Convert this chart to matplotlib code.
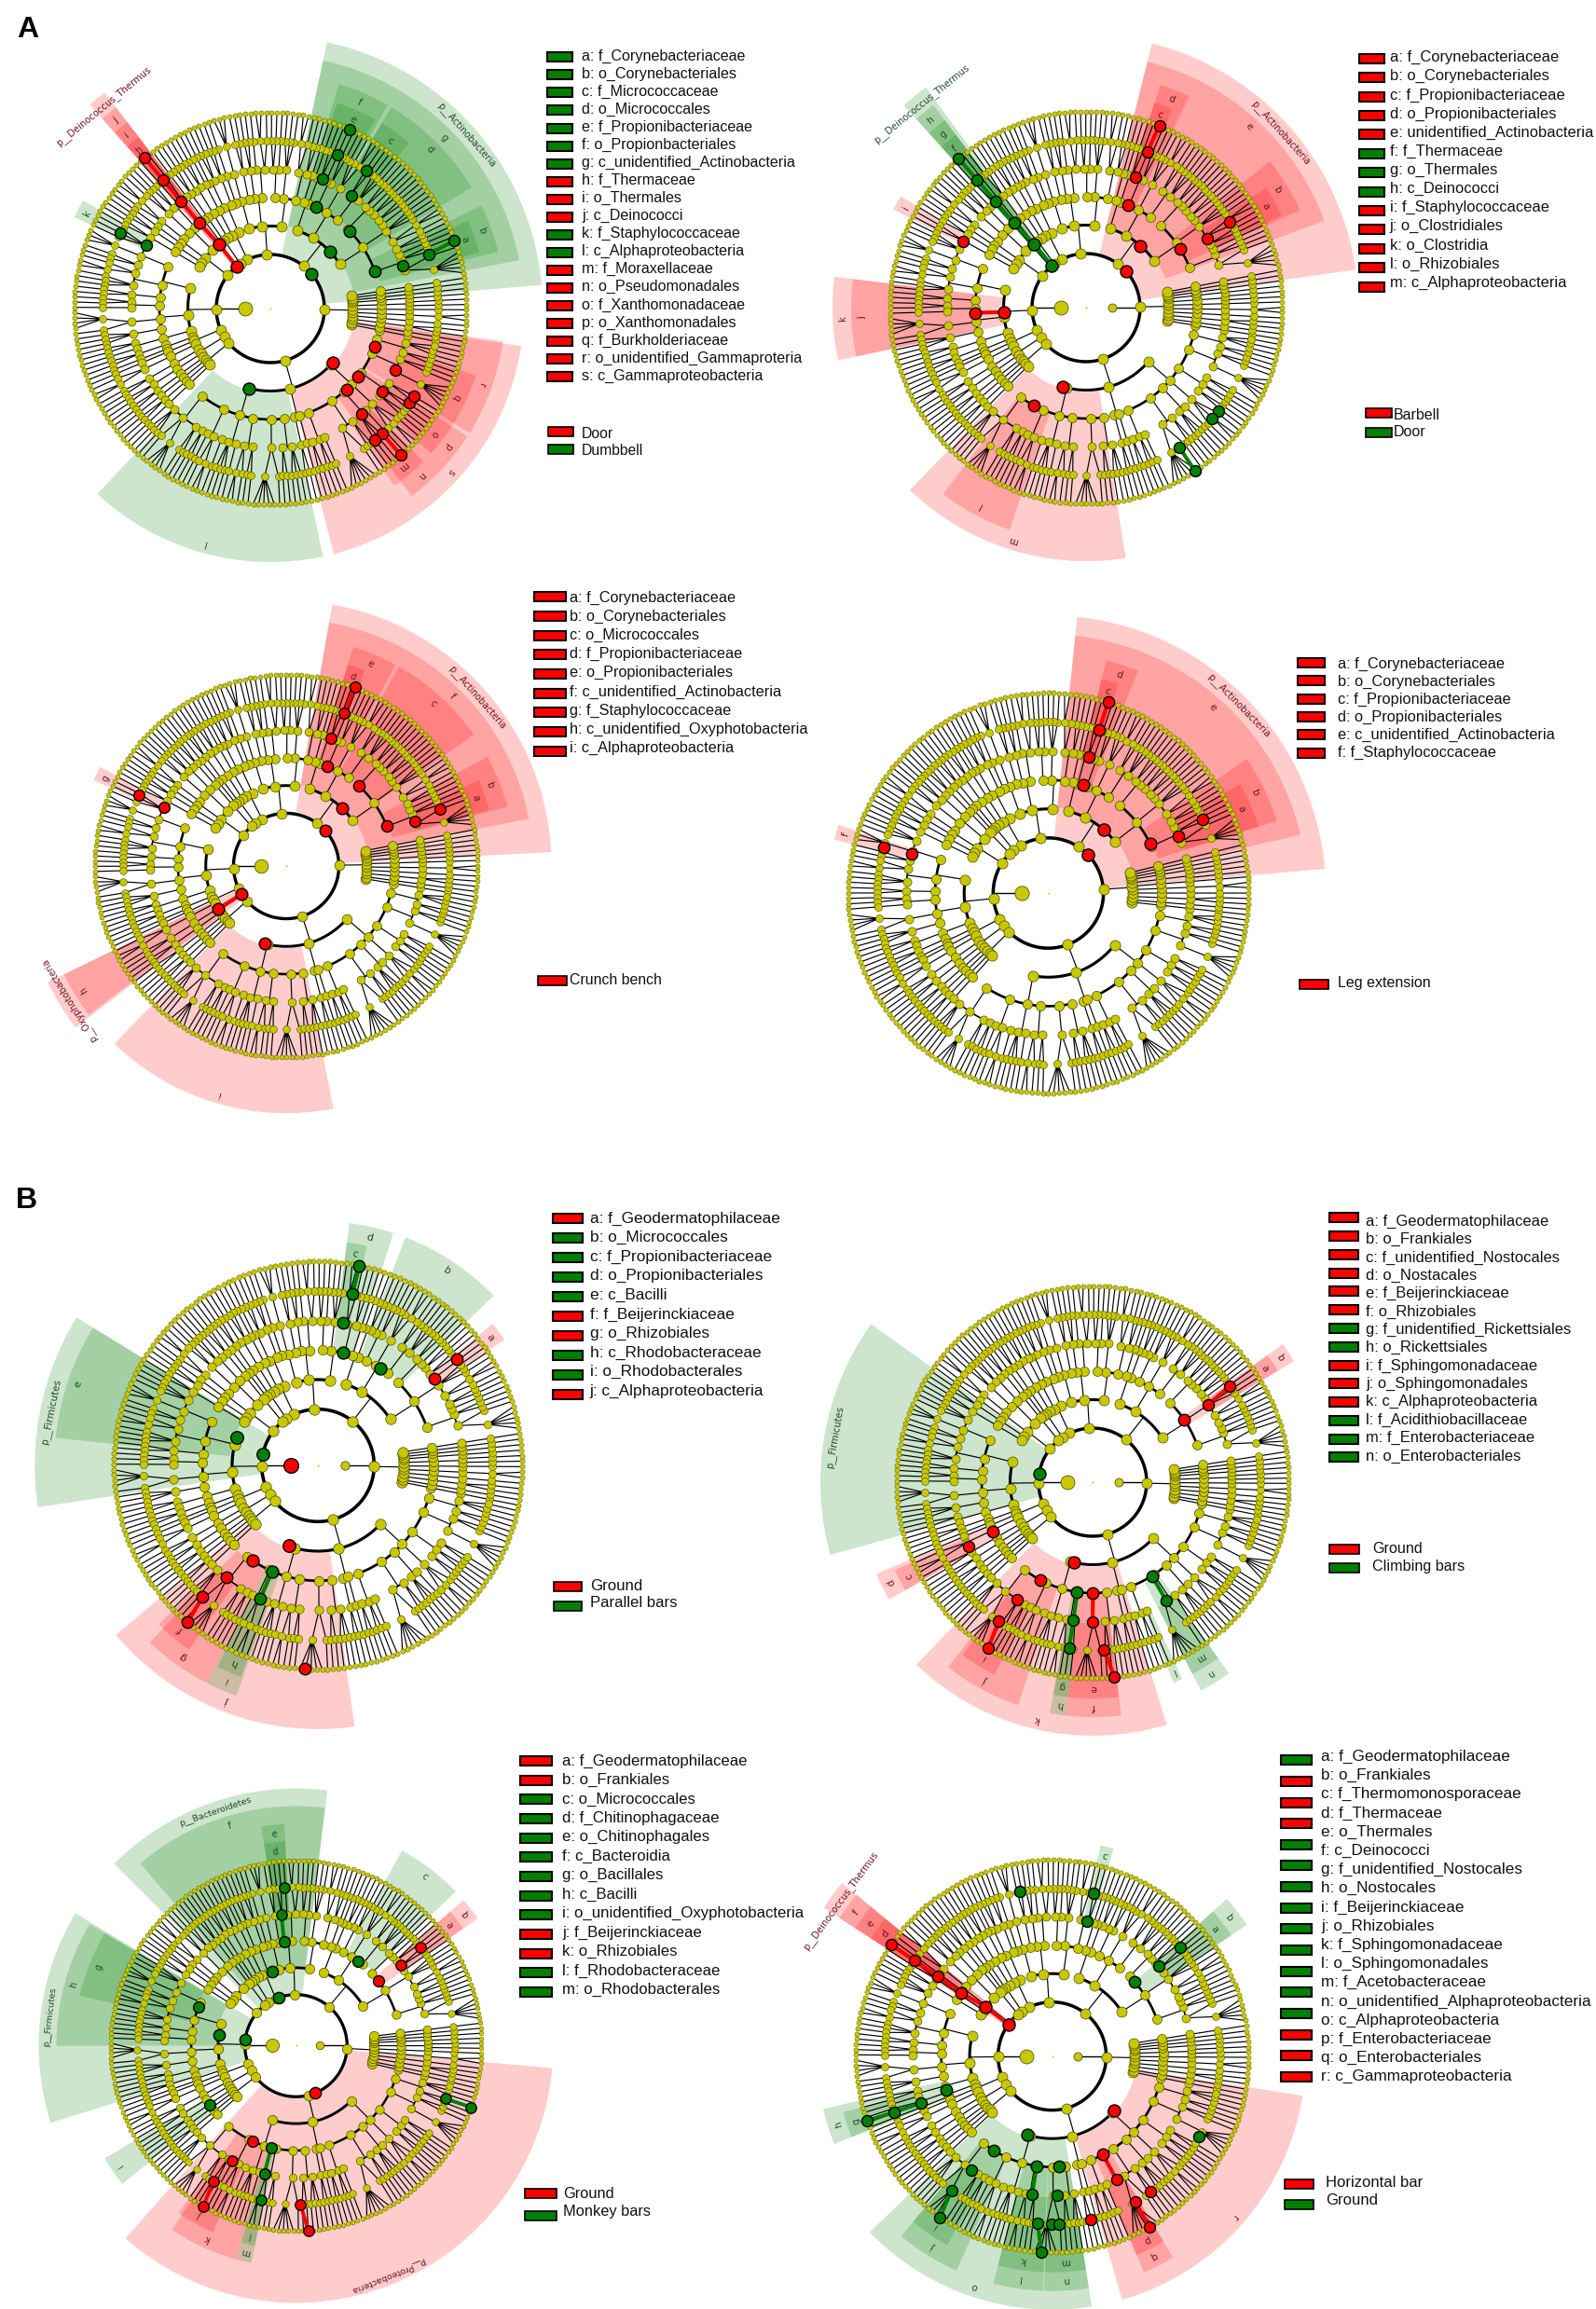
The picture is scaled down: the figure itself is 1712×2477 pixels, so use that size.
import numpy as np
import matplotlib
matplotlib.use("Agg")
import matplotlib.pyplot as plt
from matplotlib.patches import Rectangle

W, H = 1712, 2477
R_ = '#ff0000'
G_ = '#008000'
YEL = '#c8c800'

# ---------- taxonomy used as the background tree (phylum > class > order > family > genus: species count)
S1 = [[[1]]]
MISC_RIGHT = [S1, S1, [[[1, 1]]], S1, [[[2]]], S1, [[[1], [1]]], S1, S1, S1, [[[1]]]]
ACTINOBACTERIA = [
    [[[5, 1], [1, 1], [1]], [[1, 1], [1, 2], [1, 1, 1], [1], [1, 1], [1, 1]], [[1], [1, 1]]],
    [[[1, 1, 1], [1, 1]], [[2, 1, 1]], [[1, 1], [1]]],
    [[[1, 1], [1]], [[1]]],
]
BACTEROIDETES = [
    [[[1, 1], [1, 2]], [[1, 1, 1]], [[1], [1, 1]]],
    [[[1, 2], [1]], [[1, 1]]],
    [[[1, 1]], [[3]], [[1]]],
]
CYANOBACTERIA = [[[[1, 1]], [[1, 1], [1]]], [[[1]]]]
PLANCTOMYCETES = [[[[1, 1], [1]]], [[[1, 1]]], [[[1]]]]
DEINOCOCCUS = [[[[1, 1]]]]
ACIDOBACTERIA = [[[[1], [1, 1]], [[1, 1]]], [[[2, 1]], [[1]]], [[[1, 1]]], [[[1, 1]]]]
FIRMICUTES = [
    [[[1, 1, 1], [3], [1, 1]], [[1, 2], [1, 1, 1]], [[1, 1]]],
    [[[1, 1], [1]], [[4, 1]], [[1, 1, 1]]],
    [[[1, 1], [1]]],
]
CHLOROFLEXI = [[[[1, 1]], [[1]]], [[[1]]], [[[1, 2]]]]
VERRUCOMICROBIA = [[[[1, 1]]], [[[1, 1]]]]
GEMMATIMONADETES = [[[[1, 1]]], [[[1]]], [[[1, 1]]], [[[1]]]]
PROTEOBACTERIA = [
    [[[1, 1, 1], [1, 4], [1, 1]], [[1, 1], [1], [1, 2], [1]], [[1, 1, 1], [1]],
     [[2, 1], [1, 1]], [[5, 1]], [[1, 1], [1, 1, 1]]],
    [[[1, 1]], [[1]]],
    [[[1, 1], [1, 1], [1]], [[6, 1], [1, 1]], [[1, 1, 1], [1]], [[1, 2, 1]],
     [[1, 1], [1, 1], [1, 1]], [[5], [1, 1]], [[1, 1], [1, 1, 1]]],
]
PHYLA = [MISC_RIGHT, ACTINOBACTERIA, BACTEROIDETES, CYANOBACTERIA, PLANCTOMYCETES, DEINOCOCCUS,
         ACIDOBACTERIA, FIRMICUTES, CHLOROFLEXI, VERRUCOMICROBIA, GEMMATIMONADETES, PROTEOBACTERIA]
TREE_START = -12

# ---------- shaded clades: (level, start angle, end angle, colour, label)
P1_SECTORS = [
    (1, 5, 78, G_, 'p__Actinobacteria'), (2, 11, 78, G_, 'g'), (3, 31, 59, G_, 'd'), (4, 50, 59, G_, 'c'),
    (3, 60, 73, G_, 'f'), (4, 61, 72, G_, 'e'), (3, 14, 26, G_, 'b'), (4, 15, 24, G_, 'a'),
    (1, 127.5, 131.5, R_, 'p__Deinococcus_Thermus'), (2, 127.5, 131.5, R_, 'j'), (3, 127.5, 131.5, R_, 'i'),
    (4, 127.5, 131.5, R_, 'h'), (4, 150, 155, G_, 'k'), (2, 227, 282, G_, 'l'),
    (2, 284.5, 351.5, R_, 's'), (3, 328, 352, R_, 'r'), (4, 327, 342, R_, 'q'), (3, 317, 327, R_, 'p'),
    (4, 318, 327, R_, 'o'), (3, 307, 317, R_, 'n'), (4, 305, 315, R_, 'm'),
]
P2_SECTORS = [
    (1, 8, 76, R_, 'p__Actinobacteria'), (2, 20, 76, R_, 'e'), (3, 64, 71.5, R_, 'd'), (4, 66.5, 71.5, R_, 'c'),
    (3, 24.5, 38.5, R_, 'b'), (4, 25.3, 33.7, R_, 'a'),
    (1, 126, 132, G_, 'p__Deinococcus_Thermus'), (2, 127, 132, G_, 'h'), (3, 127, 132, G_, 'g'), (4, 127, 132, G_, 'f'),
    (4, 149, 153, R_, 'i'), (2, 173, 192, R_, 'k'), (3, 173, 192, R_, 'j'),
    (2, 226, 279, R_, 'm'), (3, 232.5, 251, R_, 'l'),
]
P3_SECTORS = [
    (1, 3, 80, R_, 'p__Actinobacteria'), (2, 11, 80, R_, 'f'), (3, 61.5, 73, R_, 'e'), (4, 68, 73, R_, 'd'),
    (3, 35, 60.5, R_, 'c'), (3, 15, 28.5, R_, 'b'), (4, 15.5, 24, R_, 'a'), (4, 152, 156, R_, 'g'),
    (1, 206, 217.5, R_, 'p__Oxyphotobacteria'), (2, 206, 217, R_, 'h'), (2, 226, 281, R_, 'i'),
]
P4_SECTORS = [
    (1, 5, 84, R_, 'p__Actinobacteria'), (2, 13, 84, R_, 'e'), (3, 68, 76, R_, 'd'), (4, 71.5, 76, R_, 'c'),
    (3, 17.5, 34, R_, 'b'), (4, 17.6, 29.6, R_, 'a'), (4, 162, 166, R_, 'f'),
]
P5_SECTORS = [
    (1, 148.5, 188.5, G_, 'p__Firmicutes'), (2, 148.5, 174, G_, 'e'), (3, 72, 82.6, G_, 'd'), (4, 77.4, 82.6, G_, 'c'),
    (3, 44, 69, G_, 'b'), (4, 34, 39, R_, 'a'), (2, 220, 278, R_, 'j'), (3, 226.5, 243, R_, 'g'),
    (4, 225, 235, R_, 'f'), (3, 243, 250.5, G_, 'i'), (4, 243.5, 250, G_, 'h'),
]
P6_SECTORS = [
    (1, 144.5, 195.5, G_, 'p__Firmicutes'), (3, 31, 36, R_, 'b'), (4, 31, 36, R_, 'a'), (3, 203, 210, R_, 'd'),
    (4, 204, 210, R_, 'c'), (2, 226, 287, R_, 'k'), (3, 232, 251.5, R_, 'j'), (4, 233, 243, R_, 'i'),
    (3, 263.5, 277, R_, 'f'), (4, 263.5, 277, R_, 'e'), (3, 259.5, 263.5, G_, 'h'), (4, 259.5, 263.5, G_, 'g'),
    (3, 297.5, 305.5, G_, 'n'), (4, 297.5, 305.5, G_, 'm'), (4, 292, 294.5, G_, 'l'),
]
P7_SECTORS = [
    (1, 149, 197.5, G_, 'p__Firmicutes'), (2, 149.5, 180, G_, 'h'), (3, 149.5, 167, G_, 'g'),
    (1, 83, 135, G_, 'p__Bacteroidetes'), (2, 83, 130.5, G_, 'f'), (3, 93, 99, G_, 'e'), (4, 93, 99, G_, 'd'),
    (3, 44, 61.5, G_, 'c'), (3, 35, 41, R_, 'b'), (4, 35, 41, R_, 'a'), (3, 210.5, 218.5, G_, 'i'),
    (1, 228.5, 355, R_, 'p__Proteobacteria'), (3, 236, 254.5, R_, 'k'), (4, 235, 246, R_, 'j'),
    (3, 254.5, 258.4, G_, 'm'), (4, 254.5, 258.4, G_, 'l'),
]
P8_SECTORS = [
    (1, 140.5, 147, R_, 'p__Deinococcus_Thermus'), (2, 140.5, 147, R_, 'f'), (3, 140.5, 147, R_, 'e'), (4, 140.5, 147, R_, 'd'),
    (4, 73.5, 77, G_, 'c'), (3, 34, 42, G_, 'b'), (4, 34, 42, G_, 'a'), (3, 193, 202, G_, 'h'), (4, 195, 202, G_, 'g'),
    (2, 224, 279, G_, 'o'), (3, 230, 246, G_, 'j'), (4, 230, 241, G_, 'i'), (3, 255.5, 267.8, G_, 'l'),
    (4, 255.5, 267.8, G_, 'k'), (3, 268, 279, G_, 'n'), (4, 268, 279, G_, 'm'), (2, 286, 351, R_, 'r'),
    (3, 293, 301, R_, 'q'), (4, 293, 301, R_, 'p'),
]

# ---------- enriched nodes: (level, angle, colour)
P1_NODES = [(1, 39.9, G_), (2, 44, G_), (3, 44.4, G_), (3, 65.8, G_), (3, 19.8, G_), (4, 17.8, G_), (4, 54.3, G_),
            (5, 55.2, G_), (4, 68.2, G_), (5, 66.4, G_), (6, 66.1, G_), (5, 153.2, G_), (4, 152.9, G_), (2, 255.1, G_),
            (2, 319, R_), (3, 339.6, R_), (4, 334, R_), (3, 322.4, R_), (4, 323.6, R_), (3, 313.3, R_), (4, 311, R_),
            (5, 325.8, R_), (5, 328.7, R_), (5, 308.5, R_)]
P1_CHAINS = [(R_, [(1, 128.8), (2, 128.6), (3, 129.7), (4, 129.8), (5, 129.8), (6, 129.8)]),
             (G_, [(5, 18.9), (6, 20.3)]), (R_, [(5, 311.8), (6, 311.7)])]
P2_NODES = [(1, 42.7, R_), (2, 48.7, R_), (3, 32.2, R_), (4, 29.7, R_), (5, 30.9, R_), (3, 67.7, R_), (4, 69.4, R_),
            (4, 151.6, R_), (3, 241.9, R_), (2, 253.3, R_), (5, 321.9, G_), (5, 318.6, G_)]
P2_CHAINS = [(R_, [(5, 68.5), (6, 68.1)]), (R_, [(2, 183.1), (3, 182.7)]), (G_, [(5, 303.7), (6, 303.7)]),
             (G_, [(1, 129.2), (2, 129.3), (3, 130.4), (4, 130.4), (5, 130.5), (6, 130.5)])]
P3_NODES = [(1, 41.9, R_), (2, 46.2, R_), (3, 67.5, R_), (4, 70.6, R_), (3, 47.8, R_), (3, 21.6, R_), (4, 19.1, R_),
            (5, 20.3, R_), (4, 154.3, R_), (5, 154.5, R_), (2, 254.3, R_)]
P3_CHAINS = [(R_, [(5, 69.2), (6, 69)]), (R_, [(1, 212.2), (2, 212.2)])]
P4_NODES = [(1, 44.3, R_), (2, 48.5, R_), (3, 72.2, R_), (4, 73.4, R_), (3, 26, R_), (4, 23.7, R_), (5, 25.4, R_),
            (4, 164.2, R_), (5, 164.5, R_)]
P4_CHAINS = [(R_, [(5, 72.7), (6, 72.6)])]
P5_NODES = [(0, 180, R_), (1, 169, G_), (2, 161.3, G_), (3, 77.4, G_), (4, 79.9, G_), (3, 57, G_), (4, 36.6, R_), (5, 37.4, R_),
            (2, 250, R_), (3, 235.3, R_), (4, 230.8, R_), (6, 266.3, R_)]
P5_CHAINS = [(G_, [(5, 78.6), (6, 78.3)]), (R_, [(5, 228.7), (6, 230.3)]), (G_, [(3, 246.6), (4, 246.6)])]
P6_NODES = [(1, 170.9, G_), (3, 34.2, R_), (3, 206.3, R_), (4, 207.5, R_), (2, 256.8, R_), (3, 242.2, R_), (4, 237.4, R_)]
P6_CHAINS = [(R_, [(4, 33.9), (5, 35)]), (R_, [(5, 236), (6, 237.8)]), (G_, [(3, 262), (4, 262.1), (5, 261.9)]),
             (R_, [(3, 270.2), (4, 270)]), (R_, [(5, 273.9), (6, 276.4)]), (G_, [(3, 302.3), (4, 301.9)])]
P7_NODES = [(1, 173.6, G_), (2, 172.3, G_), (3, 158.5, G_), (1, 110.1, G_), (2, 107.7, G_), (5, 94.2, G_), (3, 53.5, G_),
            (3, 214.3, G_), (3, 38.4, R_), (4, 37.5, R_), (5, 38.4, R_), (1, 291.7, R_), (3, 245.4, R_), (4, 240.8, R_),
            (4, 256.1, G_), (5, 257.1, G_)]
P7_CHAINS = [(G_, [(3, 96.5), (4, 96.4)]), (R_, [(5, 238.6), (6, 240)]), (G_, [(3, 256.4), (4, 256.1)]),
             (R_, [(5, 271.6), (6, 273.8)]), (G_, [(5, 340.5), (6, 340.6)])]
P8_NODES = [(5, 101.2, G_), (4, 75.6, G_), (5, 75.7, G_), (3, 41.8, G_), (4, 40.2, G_), (5, 40.4, G_), (3, 197.9, G_),
            (2, 252.2, G_), (3, 238.4, G_), (4, 234.7, G_), (3, 273.6, G_), (4, 271.9, G_), (5, 269.8, G_), (5, 272.3, G_),
            (5, 331.3, G_), (2, 318.7, R_), (5, 306, R_), (5, 283.3, R_)]
P8_CHAINS = [(R_, [(1, 144.1), (2, 143.5), (3, 145.1), (4, 145.1), (5, 145.2), (6, 145.3)]),
             (G_, [(4, 199.7), (5, 199.5), (6, 199.3)]), (G_, [(5, 233.1), (6, 235.2)]), (G_, [(3, 262), (4, 261.7)]),
             (G_, [(5, 265), (6, 266.9)]), (R_, [(3, 297.3), (4, 297.5)]), (R_, [(5, 299.7), (6, 299.6)])]

# ---------- legends
P1_TAXA = ['a: f_Corynebacteriaceae', 'b: o_Corynebacteriales', 'c: f_Micrococcaceae', 'd: o_Micrococcales',
           'e: f_Propionibacteriaceae', 'f: o_Propionbacteriales', 'g: c_unidentified_Actinobacteria', 'h: f_Thermaceae',
           'i: o_Thermales', 'j: c_Deinococci', 'k: f_Staphylococcaceae', 'l: c_Alphaproteobacteria', 'm: f_Moraxellaceae',
           'n: o_Pseudomonadales', 'o: f_Xanthomonadaceae', 'p: o_Xanthomonadales', 'q: f_Burkholderiaceae',
           'r: o_unidentified_Gammaproteria', 's: c_Gammaproteobacteria']
P1_SW = 'GGGGGGGRRRGGRRRRRRR'
P2_TAXA = ['a: f_Corynebacteriaceae', 'b: o_Corynebacteriales', 'c: f_Propionibacteriaceae', 'd: o_Propionibacteriales',
           'e: unidentified_Actinobacteria', 'f: f_Thermaceae', 'g: o_Thermales', 'h: c_Deinococci', 'i: f_Staphylococcaceae',
           'j: o_Clostridiales', 'k: o_Clostridia', 'l: o_Rhizobiales', 'm: c_Alphaproteobacteria']
P2_SW = 'RRRRRGGGRRRRR'
P3_TAXA = ['a: f_Corynebacteriaceae', 'b: o_Corynebacteriales', 'c: o_Micrococcales', 'd: f_Propionibacteriaceae',
           'e: o_Propionibacteriales', 'f: c_unidentified_Actinobacteria', 'g: f_Staphylococcaceae',
           'h: c_unidentified_Oxyphotobacteria', 'i: c_Alphaproteobacteria']
P3_SW = 'RRRRRRRRR'
P4_TAXA = ['a: f_Corynebacteriaceae', 'b: o_Corynebacteriales', 'c: f_Propionibacteriaceae', 'd: o_Propionibacteriales',
           'e: c_unidentified_Actinobacteria', 'f: f_Staphylococcaceae']
P4_SW = 'RRRRRR'
P5_TAXA = ['a: f_Geodermatophilaceae', 'b: o_Micrococcales', 'c: f_Propionibacteriaceae', 'd: o_Propionibacteriales',
           'e: c_Bacilli', 'f: f_Beijerinckiaceae', 'g: o_Rhizobiales', 'h: c_Rhodobacteraceae', 'i: o_Rhodobacterales',
           'j: c_Alphaproteobacteria']
P5_SW = 'RGGGGRRGGR'
P6_TAXA = ['a: f_Geodermatophilaceae', 'b: o_Frankiales', 'c: f_unidentified_Nostocales', 'd: o_Nostacales',
           'e: f_Beijerinckiaceae', 'f: o_Rhizobiales', 'g: f_unidentified_Rickettsiales', 'h: o_Rickettsiales',
           'i: f_Sphingomonadaceae', 'j: o_Sphingomonadales', 'k: c_Alphaproteobacteria', 'l: f_Acidithiobacillaceae',
           'm: f_Enterobacteriaceae', 'n: o_Enterobacteriales']
P6_SW = 'RRRRRRGGRRRGGG'
P7_TAXA = ['a: f_Geodermatophilaceae', 'b: o_Frankiales', 'c: o_Micrococcales', 'd: f_Chitinophagaceae', 'e: o_Chitinophagales',
           'f: c_Bacteroidia', 'g: o_Bacillales', 'h: c_Bacilli', 'i: o_unidentified_Oxyphotobacteria', 'j: f_Beijerinckiaceae',
           'k: o_Rhizobiales', 'l: f_Rhodobacteraceae', 'm: o_Rhodobacterales']
P7_SW = 'RRGGGGGGGRRGG'
P8_TAXA = ['a: f_Geodermatophilaceae', 'b: o_Frankiales', 'c: f_Thermomonosporaceae', 'd: f_Thermaceae', 'e: o_Thermales',
           'f: c_Deinococci', 'g: f_unidentified_Nostocales', 'h: o_Nostocales', 'i: f_Beijerinckiaceae', 'j: o_Rhizobiales',
           'k: f_Sphingomonadaceae', 'l: o_Sphingomonadales', 'm: f_Acetobacteraceae', 'n: o_unidentified_Alphaproteobacteria',
           'o: c_Alphaproteobacteria', 'p: f_Enterobacteriaceae', 'q: o_Enterobacteriales', 'r: c_Gammaproteobacteria']
P8_SW = 'GRRRGGGGGGGGGRRR'

PANELS = [
    dict(c=(290, 331), s=1.0, rot=0, right=False, sectors=P1_SECTORS, nodes=P1_NODES, chains=P1_CHAINS, taxa=P1_TAXA, sw=P1_SW,
         groups=[('Door', R_), ('Dumbbell', G_)], fs=11.6, sx=(587, 614), txt=(624, 60, 19.07), swy=(61.3, 19.05),
         gsx=(588, 615.5), gtx=624, gy=[465, 483.2], gsy=[462.6, 481.6]),
    dict(c=(1165, 330), s=1.0, rot=2, right=True, sectors=P2_SECTORS, nodes=P2_NODES, chains=P2_CHAINS, taxa=P2_TAXA, sw=P2_SW,
         groups=[('Barbell', R_), ('Door', G_)], fs=11.86, sx=(1458, 1485), txt=(1490.7, 61.7, 20.13), swy=(62.7, 20.4),
         gsx=(1465, 1493), gtx=1495, gy=[445, 464], gsy=[442.7, 464]),
    dict(c=(307, 929), s=0.975, rot=2, right=False, sectors=P3_SECTORS, nodes=P3_NODES, chains=P3_CHAINS, taxa=P3_TAXA, sw=P3_SW,
         groups=[('Crunch bench', R_)], fs=11.7, sx=(573, 607), txt=(611.5, 641.5, 20.1), swy=(640.4, 20.67),
         gsx=(577, 608), gtx=611.5, gy=[1051], gsy=[1051.8]),
    dict(c=(1124.5, 958), s=1.02, rot=5, right=False, sectors=P4_SECTORS, nodes=P4_NODES, chains=P4_CHAINS, taxa=P4_TAXA, sw=P4_SW,
         groups=[('Leg extension', R_)], fs=11.8, sx=(1392, 1421), txt=(1435.5, 712.6, 18.9), swy=(711, 19.3),
         gsx=(1394, 1425), gtx=1435.5, gy=[1055], gsy=[1055.6]),
    dict(c=(341, 1572), s=1.04, rot=0, right=True, sectors=P5_SECTORS, nodes=P5_NODES, chains=P5_CHAINS, taxa=P5_TAXA, sw=P5_SW,
         groups=[('Ground', R_), ('Parallel bars', G_)], fs=12.4, sx=(593, 625), txt=(632.7, 1307, 20.6), swy=(1307.3, 21),
         gsx=(594, 624), gtx=632.7, gy=[1701, 1720], gsy=[1701.7, 1722.7]),
    dict(c=(1172, 1590), s=1.0, rot=0, right=True, sectors=P6_SECTORS, nodes=P6_NODES, chains=P6_CHAINS, taxa=P6_TAXA, sw=P6_SW,
         groups=[('Ground', R_), ('Climbing bars', G_)], fs=11.9, sx=(1426, 1457), txt=(1465, 1310.4, 19.35), swy=(1306.4, 19.77),
         gsx=(1426, 1458), gtx=1472.5, gy=[1662, 1680], gsy=[1662, 1681.7]),
    dict(c=(317.5, 2194.5), s=0.945, rot=-2, right=True, sectors=P7_SECTORS, nodes=P7_NODES, chains=P7_CHAINS, taxa=P7_TAXA, sw=P7_SW,
         groups=[('Ground', R_), ('Monkey bars', G_)], fs=12.1, sx=(558, 592), txt=(603.5, 1889, 20.47), swy=(1889, 20.66),
         gsx=(563, 597), gtx=604, gy=[2353, 2372], gsy=[2353, 2377]),
    dict(c=(1128.6, 2205.7), s=1.0, rot=0, right=True, sectors=P8_SECTORS, nodes=P8_NODES, chains=P8_CHAINS, taxa=P8_TAXA, sw=P8_SW,
         groups=[('Horizontal bar', R_), ('Ground', G_)], fs=12.3, sx=(1374, 1407), txt=(1417.4, 1884.5, 20.2), swy=(1888.2, 22.65),
         gsx=(1378, 1409), gtx=1421.8, gy=[2342, 2360.8], gsy=[2342.6, 2364.5]),
]
PANEL_LETTERS = [('A', 18, 32), ('B', 17, 1288)]

# ---------- geometry helpers
RMAX = 330


def ring(level):
    return 27.5 + 30.5 * level


def outer(level):
    return 292 - 20 * (level - 1)


YELLOW_D = {0: 15, 1: 11, 2: 11, 3: 10, 4: 9, 5: 8, 6: 5.2}
MARK_D = {0: 15, 1: 13, 2: 13, 3: 12.5, 4: 12, 5: 12, 6: 12}
ARC_LW = {2: 2.2, 3: 1.9, 4: 1.2}


def count_leaves(node):
    if isinstance(node, int):
        return node
    return sum(count_leaves(c) for c in node)


def build_tree(rot):
    """Lay the nested taxonomy out on the rings; returns nodes, thin lines and arcs."""
    n = count_leaves(PHYLA)
    step = 360.0 / n
    state = {'leaf': 0}
    nodes = {i: [] for i in range(1, 7)}
    lines_t, lines_r = [], []
    arcs = {i: ([], []) for i in ARC_LW}

    def place(node, level):
        if isinstance(node, int):
            kids = []
            for _ in range(node):
                a = TREE_START + rot + step * (state['leaf'] + 0.5)
                state['leaf'] += 1
                nodes[6].append(a)
                kids.append(a)
        else:
            kids = [place(c, level + 1) for c in node]
        ang = 0.5 * (kids[0] + kids[-1])
        nodes[level].append(ang)
        if level <= 3 and len(kids) > 1:
            t = np.arange(kids[0], kids[-1] + 0.5, 1.0)
            t = np.append(t, kids[-1])
            arcs[level + 1][0].extend(list(np.radians(t)) + [np.nan])
            arcs[level + 1][1].extend([ring(level + 1)] * len(t) + [np.nan])
            lines_t.extend([np.radians(ang), np.radians(ang), np.nan])
            lines_r.extend([ring(level), ring(level + 1), np.nan])
        else:
            for k in kids:
                lines_t.extend([np.radians(ang), np.radians(k), np.nan])
                lines_r.extend([ring(level), ring(level + 1), np.nan])
        return ang

    phyla = [place(p, 1) for p in PHYLA]
    return nodes, phyla, lines_t, lines_r, arcs


fig = plt.figure(figsize=(W / 100, H / 100), dpi=100, facecolor='white')


def dia_to_s(d, scale):
    return (d * 0.72 * scale) ** 2


EDGE_LW = {1: 0.5, 2: 0.5, 3: 0.5, 4: 0.45, 5: 0.4, 6: 0.3}

for p in PANELS:
    cx, cy = p['c']
    sc = p['s']
    half = RMAX * sc
    ax = fig.add_axes([(cx - half) / W, 1 - (cy + half) / H, 2 * half / W, 2 * half / H], projection='polar')
    ax.set_ylim(0, RMAX)
    ax.set_axis_off()
    ax.patch.set_alpha(0)

    for lev, a1, a2, col, lab in p['sectors']:
        r0, r1 = ring(lev) + 2, outer(lev)
        ax.bar(np.radians((a1 + a2) / 2), r1 - r0, width=np.radians(a2 - a1), bottom=r0,
               color=col, alpha=0.2, linewidth=0, zorder=1)
        tc = '#6e1422' if col == R_ else '#244a30'
        am = (a1 + a2) / 2
        ax.text(np.radians(am), r1 - 11, lab, rotation=am - 90, rotation_mode='anchor', ha='center', va='center',
                fontsize=7.2 * sc if lab.startswith('p__') else 7.5 * sc, color=tc,
                family='DejaVu Sans', zorder=8, clip_on=False)

    nodes, phyla, lt, lr, arcs = build_tree(p['rot'])
    ax.plot(lt, lr, color='black', lw=0.85, zorder=2, solid_capstyle='butt')
    for lev, (t, r) in arcs.items():
        if t:
            ax.plot(t, r, color='black', lw=ARC_LW[lev] * sc, zorder=2, solid_capstyle='round')
    # big circle of the phylum ring and the two inner nodes
    full = np.radians(np.arange(0, 361, 1.0))
    ax.plot(full, [ring(1)] * len(full), color='black', lw=2.5 * sc, zorder=2)
    ax.plot(np.radians([180, 180]), [ring(0), ring(1)], color='black', lw=1.0, zorder=2)
    ax.scatter(np.radians(180), ring(0), s=dia_to_s(YELLOW_D[0], sc), color=YEL, edgecolor='#3a3a00', linewidth=0.5, zorder=4)
    if p['right']:
        ax.plot(np.radians([0, 0]), [ring(0), ring(1)], color='black', lw=1.0, zorder=2)
        ax.scatter(0, ring(0), s=dia_to_s(9, sc), color=YEL, edgecolor='#3a3a00', linewidth=0.5, zorder=4)
    ax.scatter(0, 0, s=2, color=YEL, linewidth=0, zorder=4)

    for lev in range(6, 0, -1):
        ang = np.radians(nodes[lev])
        ax.scatter(ang, [ring(lev)] * len(ang), s=dia_to_s(YELLOW_D[lev], sc), color=YEL,
                   edgecolor='#4a4a00', linewidth=EDGE_LW[lev], zorder=3 + (6 - lev) * 0.01)

    for col, path in p['chains']:
        ax.plot(np.radians([a for _, a in path]), [ring(l) for l, _ in path], color=col, lw=3.0 * sc, zorder=5,
                solid_capstyle='butt')
        for l, a in path:
            ax.scatter(np.radians(a), ring(l), s=dia_to_s(MARK_D[l], sc), color=col, edgecolor='black', linewidth=1.0, zorder=6)
    for l, a, col in p['nodes']:
        ax.scatter(np.radians(a), ring(l), s=dia_to_s(MARK_D[l], sc), color=col, edgecolor='black', linewidth=1.0, zorder=6)

# overlay in image pixels for legends and panel letters
ov = fig.add_axes([0, 0, 1, 1], facecolor='none')
ov.set_xlim(0, W)
ov.set_ylim(H, 0)
ov.set_axis_off()
FONT = 'Liberation Sans'
SW_H = 10
for p in PANELS:
    x0, y0, dy = p['txt']
    for i, t in enumerate(p['taxa']):
        ov.text(x0, y0 + i * dy, t, fontsize=p['fs'], family=FONT, va='center', ha='left', color='#111111')
    sy0, sdy = p['swy']
    for i, code in enumerate(p['sw']):
        ov.add_patch(Rectangle((p['sx'][0], sy0 + i * sdy - SW_H / 2), p['sx'][1] - p['sx'][0], SW_H,
                               facecolor=R_ if code == 'R' else G_, edgecolor='black', linewidth=1.5))
    for (name, col), ty, sy in zip(p['groups'], p['gy'], p['gsy']):
        ov.text(p['gtx'], ty, name, fontsize=p['fs'] - 0.3, family=FONT, va='center', ha='left', color='#111111')
        ov.add_patch(Rectangle((p['gsx'][0], sy - SW_H / 2), p['gsx'][1] - p['gsx'][0], SW_H,
                               facecolor=col, edgecolor='black', linewidth=1.2))
for letter, x, y in PANEL_LETTERS:
    ov.text(x, y, letter, fontsize=23, fontweight='bold', family=FONT, va='center', ha='left', color='black')

fig.savefig('out.png', dpi=100, facecolor='white')
